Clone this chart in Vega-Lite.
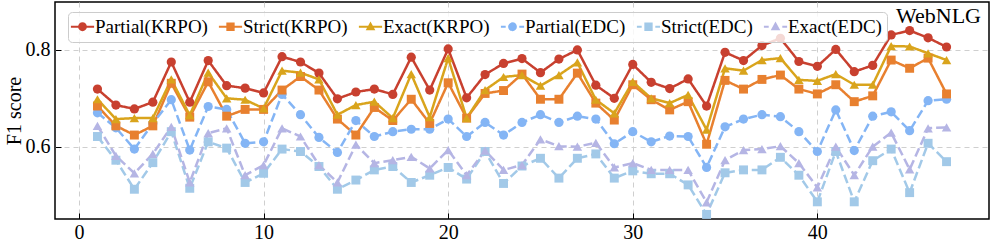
{
  "$schema": "https://vega.github.io/schema/vega-lite/v6.json",
  "width": 934,
  "height": 217,
  "autosize": {"type": "none"},
  "padding": {"left": 55, "top": 2, "right": 3, "bottom": 23},
  "background": "white",
  "config": {
    "font": "Liberation Serif",
    "view": {"stroke": "black", "strokeWidth": 1.5},
    "axis": {
      "domain": false,
      "labelFont": "Liberation Serif",
      "labelFontSize": 20,
      "labelColor": "black",
      "titleFont": "Liberation Serif",
      "titleFontSize": 20,
      "titleFontWeight": "normal",
      "titleColor": "black",
      "tickColor": "black",
      "tickSize": -6,
      "tickWidth": 1,
      "grid": true,
      "gridColor": "#cfcfcf",
      "gridDash": [5, 4],
      "gridWidth": 1
    },
    "legend": {
      "labelFont": "Liberation Serif",
      "labelFontSize": 19,
      "labelColor": "black",
      "labelLimit": 0
    }
  },
  "title": {
    "text": "WebNLG",
    "anchor": "end",
    "orient": "top",
    "frame": "group",
    "offset": -26,
    "dx": -8,
    "font": "Liberation Serif",
    "fontSize": 22,
    "fontWeight": "normal",
    "color": "black"
  },
  "data": {"values": [
    {"x":1,"s":"Partial(KRPO)","v":0.719},{"x":2,"s":"Partial(KRPO)","v":0.686},{"x":3,"s":"Partial(KRPO)","v":0.678},{"x":4,"s":"Partial(KRPO)","v":0.692},{"x":5,"s":"Partial(KRPO)","v":0.775},{"x":6,"s":"Partial(KRPO)","v":0.692},{"x":7,"s":"Partial(KRPO)","v":0.778},{"x":8,"s":"Partial(KRPO)","v":0.726},{"x":9,"s":"Partial(KRPO)","v":0.721},{"x":10,"s":"Partial(KRPO)","v":0.711},{"x":11,"s":"Partial(KRPO)","v":0.786},{"x":12,"s":"Partial(KRPO)","v":0.775},{"x":13,"s":"Partial(KRPO)","v":0.752},{"x":14,"s":"Partial(KRPO)","v":0.699},{"x":15,"s":"Partial(KRPO)","v":0.713},{"x":16,"s":"Partial(KRPO)","v":0.719},{"x":17,"s":"Partial(KRPO)","v":0.708},{"x":18,"s":"Partial(KRPO)","v":0.785},{"x":19,"s":"Partial(KRPO)","v":0.717},{"x":20,"s":"Partial(KRPO)","v":0.802},{"x":21,"s":"Partial(KRPO)","v":0.701},{"x":22,"s":"Partial(KRPO)","v":0.749},{"x":23,"s":"Partial(KRPO)","v":0.772},{"x":24,"s":"Partial(KRPO)","v":0.782},{"x":25,"s":"Partial(KRPO)","v":0.753},{"x":26,"s":"Partial(KRPO)","v":0.781},{"x":27,"s":"Partial(KRPO)","v":0.800},{"x":28,"s":"Partial(KRPO)","v":0.727},{"x":29,"s":"Partial(KRPO)","v":0.700},{"x":30,"s":"Partial(KRPO)","v":0.770},{"x":31,"s":"Partial(KRPO)","v":0.733},{"x":32,"s":"Partial(KRPO)","v":0.720},{"x":33,"s":"Partial(KRPO)","v":0.740},{"x":34,"s":"Partial(KRPO)","v":0.684},{"x":35,"s":"Partial(KRPO)","v":0.795},{"x":36,"s":"Partial(KRPO)","v":0.778},{"x":37,"s":"Partial(KRPO)","v":0.809},{"x":38,"s":"Partial(KRPO)","v":0.824},{"x":39,"s":"Partial(KRPO)","v":0.776},{"x":40,"s":"Partial(KRPO)","v":0.766},{"x":41,"s":"Partial(KRPO)","v":0.801},{"x":42,"s":"Partial(KRPO)","v":0.755},{"x":43,"s":"Partial(KRPO)","v":0.768},{"x":44,"s":"Partial(KRPO)","v":0.831},{"x":45,"s":"Partial(KRPO)","v":0.840},{"x":46,"s":"Partial(KRPO)","v":0.825},{"x":47,"s":"Partial(KRPO)","v":0.806},
    {"x":1,"s":"Strict(KRPO)","v":0.684},{"x":2,"s":"Strict(KRPO)","v":0.643},{"x":3,"s":"Strict(KRPO)","v":0.624},{"x":4,"s":"Strict(KRPO)","v":0.643},{"x":5,"s":"Strict(KRPO)","v":0.731},{"x":6,"s":"Strict(KRPO)","v":0.661},{"x":7,"s":"Strict(KRPO)","v":0.734},{"x":8,"s":"Strict(KRPO)","v":0.663},{"x":9,"s":"Strict(KRPO)","v":0.677},{"x":10,"s":"Strict(KRPO)","v":0.677},{"x":11,"s":"Strict(KRPO)","v":0.717},{"x":12,"s":"Strict(KRPO)","v":0.745},{"x":13,"s":"Strict(KRPO)","v":0.717},{"x":14,"s":"Strict(KRPO)","v":0.657},{"x":15,"s":"Strict(KRPO)","v":0.624},{"x":16,"s":"Strict(KRPO)","v":0.681},{"x":17,"s":"Strict(KRPO)","v":0.654},{"x":18,"s":"Strict(KRPO)","v":0.698},{"x":19,"s":"Strict(KRPO)","v":0.648},{"x":20,"s":"Strict(KRPO)","v":0.732},{"x":21,"s":"Strict(KRPO)","v":0.659},{"x":22,"s":"Strict(KRPO)","v":0.710},{"x":23,"s":"Strict(KRPO)","v":0.716},{"x":24,"s":"Strict(KRPO)","v":0.750},{"x":25,"s":"Strict(KRPO)","v":0.698},{"x":26,"s":"Strict(KRPO)","v":0.698},{"x":27,"s":"Strict(KRPO)","v":0.752},{"x":28,"s":"Strict(KRPO)","v":0.690},{"x":29,"s":"Strict(KRPO)","v":0.655},{"x":30,"s":"Strict(KRPO)","v":0.728},{"x":31,"s":"Strict(KRPO)","v":0.697},{"x":32,"s":"Strict(KRPO)","v":0.676},{"x":33,"s":"Strict(KRPO)","v":0.693},{"x":34,"s":"Strict(KRPO)","v":0.605},{"x":35,"s":"Strict(KRPO)","v":0.737},{"x":36,"s":"Strict(KRPO)","v":0.719},{"x":37,"s":"Strict(KRPO)","v":0.739},{"x":38,"s":"Strict(KRPO)","v":0.748},{"x":39,"s":"Strict(KRPO)","v":0.719},{"x":40,"s":"Strict(KRPO)","v":0.709},{"x":41,"s":"Strict(KRPO)","v":0.728},{"x":42,"s":"Strict(KRPO)","v":0.693},{"x":43,"s":"Strict(KRPO)","v":0.705},{"x":44,"s":"Strict(KRPO)","v":0.779},{"x":45,"s":"Strict(KRPO)","v":0.762},{"x":46,"s":"Strict(KRPO)","v":0.783},{"x":47,"s":"Strict(KRPO)","v":0.709},
    {"x":1,"s":"Exact(KRPO)","v":0.698},{"x":2,"s":"Exact(KRPO)","v":0.657},{"x":3,"s":"Exact(KRPO)","v":0.659},{"x":4,"s":"Exact(KRPO)","v":0.659},{"x":5,"s":"Exact(KRPO)","v":0.739},{"x":6,"s":"Exact(KRPO)","v":0.665},{"x":7,"s":"Exact(KRPO)","v":0.753},{"x":8,"s":"Exact(KRPO)","v":0.700},{"x":9,"s":"Exact(KRPO)","v":0.697},{"x":10,"s":"Exact(KRPO)","v":0.679},{"x":11,"s":"Exact(KRPO)","v":0.757},{"x":12,"s":"Exact(KRPO)","v":0.753},{"x":13,"s":"Exact(KRPO)","v":0.739},{"x":14,"s":"Exact(KRPO)","v":0.666},{"x":15,"s":"Exact(KRPO)","v":0.686},{"x":16,"s":"Exact(KRPO)","v":0.693},{"x":17,"s":"Exact(KRPO)","v":0.659},{"x":18,"s":"Exact(KRPO)","v":0.750},{"x":19,"s":"Exact(KRPO)","v":0.661},{"x":20,"s":"Exact(KRPO)","v":0.783},{"x":21,"s":"Exact(KRPO)","v":0.659},{"x":22,"s":"Exact(KRPO)","v":0.717},{"x":23,"s":"Exact(KRPO)","v":0.744},{"x":24,"s":"Exact(KRPO)","v":0.748},{"x":25,"s":"Exact(KRPO)","v":0.726},{"x":26,"s":"Exact(KRPO)","v":0.748},{"x":27,"s":"Exact(KRPO)","v":0.774},{"x":28,"s":"Exact(KRPO)","v":0.697},{"x":29,"s":"Exact(KRPO)","v":0.669},{"x":30,"s":"Exact(KRPO)","v":0.734},{"x":31,"s":"Exact(KRPO)","v":0.700},{"x":32,"s":"Exact(KRPO)","v":0.690},{"x":33,"s":"Exact(KRPO)","v":0.707},{"x":34,"s":"Exact(KRPO)","v":0.635},{"x":35,"s":"Exact(KRPO)","v":0.762},{"x":36,"s":"Exact(KRPO)","v":0.757},{"x":37,"s":"Exact(KRPO)","v":0.779},{"x":38,"s":"Exact(KRPO)","v":0.783},{"x":39,"s":"Exact(KRPO)","v":0.738},{"x":40,"s":"Exact(KRPO)","v":0.736},{"x":41,"s":"Exact(KRPO)","v":0.750},{"x":42,"s":"Exact(KRPO)","v":0.728},{"x":43,"s":"Exact(KRPO)","v":0.728},{"x":44,"s":"Exact(KRPO)","v":0.808},{"x":45,"s":"Exact(KRPO)","v":0.807},{"x":46,"s":"Exact(KRPO)","v":0.793},{"x":47,"s":"Exact(KRPO)","v":0.779},
    {"x":1,"s":"Partial(EDC)","v":0.670},{"x":2,"s":"Partial(EDC)","v":0.639},{"x":3,"s":"Partial(EDC)","v":0.595},{"x":4,"s":"Partial(EDC)","v":0.648},{"x":5,"s":"Partial(EDC)","v":0.697},{"x":6,"s":"Partial(EDC)","v":0.593},{"x":7,"s":"Partial(EDC)","v":0.683},{"x":8,"s":"Partial(EDC)","v":0.677},{"x":9,"s":"Partial(EDC)","v":0.607},{"x":10,"s":"Partial(EDC)","v":0.610},{"x":11,"s":"Partial(EDC)","v":0.708},{"x":12,"s":"Partial(EDC)","v":0.666},{"x":13,"s":"Partial(EDC)","v":0.619},{"x":14,"s":"Partial(EDC)","v":0.588},{"x":15,"s":"Partial(EDC)","v":0.654},{"x":16,"s":"Partial(EDC)","v":0.621},{"x":17,"s":"Partial(EDC)","v":0.631},{"x":18,"s":"Partial(EDC)","v":0.636},{"x":19,"s":"Partial(EDC)","v":0.636},{"x":20,"s":"Partial(EDC)","v":0.657},{"x":21,"s":"Partial(EDC)","v":0.621},{"x":22,"s":"Partial(EDC)","v":0.650},{"x":23,"s":"Partial(EDC)","v":0.624},{"x":24,"s":"Partial(EDC)","v":0.650},{"x":25,"s":"Partial(EDC)","v":0.666},{"x":26,"s":"Partial(EDC)","v":0.650},{"x":27,"s":"Partial(EDC)","v":0.663},{"x":28,"s":"Partial(EDC)","v":0.657},{"x":29,"s":"Partial(EDC)","v":0.606},{"x":30,"s":"Partial(EDC)","v":0.631},{"x":31,"s":"Partial(EDC)","v":0.610},{"x":32,"s":"Partial(EDC)","v":0.622},{"x":33,"s":"Partial(EDC)","v":0.621},{"x":34,"s":"Partial(EDC)","v":0.557},{"x":35,"s":"Partial(EDC)","v":0.641},{"x":36,"s":"Partial(EDC)","v":0.657},{"x":37,"s":"Partial(EDC)","v":0.666},{"x":38,"s":"Partial(EDC)","v":0.662},{"x":39,"s":"Partial(EDC)","v":0.631},{"x":40,"s":"Partial(EDC)","v":0.590},{"x":41,"s":"Partial(EDC)","v":0.676},{"x":42,"s":"Partial(EDC)","v":0.592},{"x":43,"s":"Partial(EDC)","v":0.663},{"x":44,"s":"Partial(EDC)","v":0.672},{"x":45,"s":"Partial(EDC)","v":0.633},{"x":46,"s":"Partial(EDC)","v":0.695},{"x":47,"s":"Partial(EDC)","v":0.698},
    {"x":1,"s":"Strict(EDC)","v":0.621},{"x":2,"s":"Strict(EDC)","v":0.572},{"x":3,"s":"Strict(EDC)","v":0.512},{"x":4,"s":"Strict(EDC)","v":0.567},{"x":5,"s":"Strict(EDC)","v":0.631},{"x":6,"s":"Strict(EDC)","v":0.514},{"x":7,"s":"Strict(EDC)","v":0.610},{"x":8,"s":"Strict(EDC)","v":0.597},{"x":9,"s":"Strict(EDC)","v":0.526},{"x":10,"s":"Strict(EDC)","v":0.545},{"x":11,"s":"Strict(EDC)","v":0.595},{"x":12,"s":"Strict(EDC)","v":0.590},{"x":13,"s":"Strict(EDC)","v":0.559},{"x":14,"s":"Strict(EDC)","v":0.512},{"x":15,"s":"Strict(EDC)","v":0.531},{"x":16,"s":"Strict(EDC)","v":0.552},{"x":17,"s":"Strict(EDC)","v":0.559},{"x":18,"s":"Strict(EDC)","v":0.526},{"x":19,"s":"Strict(EDC)","v":0.541},{"x":20,"s":"Strict(EDC)","v":0.557},{"x":21,"s":"Strict(EDC)","v":0.533},{"x":22,"s":"Strict(EDC)","v":0.590},{"x":23,"s":"Strict(EDC)","v":0.524},{"x":24,"s":"Strict(EDC)","v":0.560},{"x":25,"s":"Strict(EDC)","v":0.576},{"x":26,"s":"Strict(EDC)","v":0.535},{"x":27,"s":"Strict(EDC)","v":0.576},{"x":28,"s":"Strict(EDC)","v":0.585},{"x":29,"s":"Strict(EDC)","v":0.535},{"x":30,"s":"Strict(EDC)","v":0.550},{"x":31,"s":"Strict(EDC)","v":0.544},{"x":32,"s":"Strict(EDC)","v":0.544},{"x":33,"s":"Strict(EDC)","v":0.521},{"x":34,"s":"Strict(EDC)","v":0.460},{"x":35,"s":"Strict(EDC)","v":0.546},{"x":36,"s":"Strict(EDC)","v":0.552},{"x":37,"s":"Strict(EDC)","v":0.552},{"x":38,"s":"Strict(EDC)","v":0.578},{"x":39,"s":"Strict(EDC)","v":0.541},{"x":40,"s":"Strict(EDC)","v":0.486},{"x":41,"s":"Strict(EDC)","v":0.590},{"x":42,"s":"Strict(EDC)","v":0.486},{"x":43,"s":"Strict(EDC)","v":0.571},{"x":44,"s":"Strict(EDC)","v":0.595},{"x":45,"s":"Strict(EDC)","v":0.505},{"x":46,"s":"Strict(EDC)","v":0.607},{"x":47,"s":"Strict(EDC)","v":0.569},
    {"x":1,"s":"Exact(EDC)","v":0.643},{"x":2,"s":"Exact(EDC)","v":0.581},{"x":3,"s":"Exact(EDC)","v":0.545},{"x":4,"s":"Exact(EDC)","v":0.585},{"x":5,"s":"Exact(EDC)","v":0.641},{"x":6,"s":"Exact(EDC)","v":0.526},{"x":7,"s":"Exact(EDC)","v":0.628},{"x":8,"s":"Exact(EDC)","v":0.638},{"x":9,"s":"Exact(EDC)","v":0.541},{"x":10,"s":"Exact(EDC)","v":0.562},{"x":11,"s":"Exact(EDC)","v":0.638},{"x":12,"s":"Exact(EDC)","v":0.621},{"x":13,"s":"Exact(EDC)","v":0.562},{"x":14,"s":"Exact(EDC)","v":0.526},{"x":15,"s":"Exact(EDC)","v":0.604},{"x":16,"s":"Exact(EDC)","v":0.566},{"x":17,"s":"Exact(EDC)","v":0.572},{"x":18,"s":"Exact(EDC)","v":0.579},{"x":19,"s":"Exact(EDC)","v":0.555},{"x":20,"s":"Exact(EDC)","v":0.593},{"x":21,"s":"Exact(EDC)","v":0.541},{"x":22,"s":"Exact(EDC)","v":0.592},{"x":23,"s":"Exact(EDC)","v":0.552},{"x":24,"s":"Exact(EDC)","v":0.562},{"x":25,"s":"Exact(EDC)","v":0.615},{"x":26,"s":"Exact(EDC)","v":0.601},{"x":27,"s":"Exact(EDC)","v":0.600},{"x":28,"s":"Exact(EDC)","v":0.608},{"x":29,"s":"Exact(EDC)","v":0.557},{"x":30,"s":"Exact(EDC)","v":0.566},{"x":31,"s":"Exact(EDC)","v":0.552},{"x":32,"s":"Exact(EDC)","v":0.552},{"x":33,"s":"Exact(EDC)","v":0.552},{"x":34,"s":"Exact(EDC)","v":0.485},{"x":35,"s":"Exact(EDC)","v":0.572},{"x":36,"s":"Exact(EDC)","v":0.593},{"x":37,"s":"Exact(EDC)","v":0.595},{"x":38,"s":"Exact(EDC)","v":0.601},{"x":39,"s":"Exact(EDC)","v":0.566},{"x":40,"s":"Exact(EDC)","v":0.516},{"x":41,"s":"Exact(EDC)","v":0.600},{"x":42,"s":"Exact(EDC)","v":0.541},{"x":43,"s":"Exact(EDC)","v":0.600},{"x":44,"s":"Exact(EDC)","v":0.629},{"x":45,"s":"Exact(EDC)","v":0.553},{"x":46,"s":"Exact(EDC)","v":0.638},{"x":47,"s":"Exact(EDC)","v":0.640}
  ]},
  "encoding": {
    "x": {
      "field": "x", "type": "quantitative",
      "scale": {"domain": [-1.3, 49.3], "nice": false, "zero": false},
      "axis": {"title": null, "values": [0, 10, 20, 30, 40], "labelPadding": 9, "labelFlush": false, "labelFont": "Liberation Serif", "labelFontSize": 20}
    },
    "y": {
      "field": "v", "type": "quantitative",
      "scale": {"domain": [0.4505, 0.899], "nice": false, "zero": false},
      "axis": {"title": "F1 score", "values": [0.6, 0.8], "format": ".1f", "labelPadding": 11, "titlePadding": 1, "labelFlush": false, "labelFont": "Liberation Serif", "labelFontSize": 20, "titleFont": "Liberation Serif", "titleFontSize": 20}
    }
  },
  "layer": [
    {
      "mark": {"type": "line", "strokeWidth": 2.5},
      "encoding": {
        "color": {
          "field": "s", "type": "nominal",
          "scale": {
            "domain": ["Partial(KRPO)", "Strict(KRPO)", "Exact(KRPO)", "Partial(EDC)", "Strict(EDC)", "Exact(EDC)"],
            "range": ["#c8402f", "#e8802f", "#d9a41c", "#84b5f5", "#a2c9e8", "#b5b5e4"]
          },
          "legend": null
        },
        "strokeDash": {
          "field": "s", "type": "nominal",
          "scale": {
            "domain": ["Partial(KRPO)", "Strict(KRPO)", "Exact(KRPO)", "Partial(EDC)", "Strict(EDC)", "Exact(EDC)"],
            "range": [[1, 0], [1, 0], [1, 0], [9, 4], [9, 4], [9, 4]]
          },
          "legend": null
        }
      }
    },
    {
      "transform": [{"filter": "indexof(datum.s, 'Partial') === 0"}],
      "mark": {"type": "point", "shape": "circle", "filled": true, "size": 85, "opacity": 1},
      "encoding": {
        "color": {
          "field": "s", "type": "nominal",
          "scale": {
            "domain": ["Partial(KRPO)", "Strict(KRPO)", "Exact(KRPO)", "Partial(EDC)", "Strict(EDC)", "Exact(EDC)"],
            "range": ["#c8402f", "#e8802f", "#d9a41c", "#84b5f5", "#a2c9e8", "#b5b5e4"]
          },
          "legend": null
        }
      }
    },
    {
      "transform": [{"filter": "indexof(datum.s, 'Strict') === 0"}],
      "mark": {"type": "point", "shape": "square", "filled": true, "size": 80, "opacity": 1},
      "encoding": {
        "color": {
          "field": "s", "type": "nominal",
          "scale": {
            "domain": ["Partial(KRPO)", "Strict(KRPO)", "Exact(KRPO)", "Partial(EDC)", "Strict(EDC)", "Exact(EDC)"],
            "range": ["#c8402f", "#e8802f", "#d9a41c", "#84b5f5", "#a2c9e8", "#b5b5e4"]
          },
          "legend": null
        }
      }
    },
    {
      "transform": [{"filter": "indexof(datum.s, 'Exact') === 0"}],
      "mark": {"type": "point", "shape": "triangle-up", "filled": true, "size": 90, "opacity": 1},
      "encoding": {
        "color": {
          "field": "s", "type": "nominal",
          "scale": {
            "domain": ["Partial(KRPO)", "Strict(KRPO)", "Exact(KRPO)", "Partial(EDC)", "Strict(EDC)", "Exact(EDC)"],
            "range": ["#c8402f", "#e8802f", "#d9a41c", "#84b5f5", "#a2c9e8", "#b5b5e4"]
          },
          "legend": null
        }
      }
    },
    {
      "transform": [{"filter": "datum.x > 1000"}],
      "mark": {"type": "point", "filled": true, "opacity": 1, "strokeWidth": 0},
      "encoding": {
        "color": {
          "field": "s", "type": "nominal",
          "scale": {
            "domain": ["Partial(KRPO)", "Strict(KRPO)", "Exact(KRPO)", "Partial(EDC)", "Strict(EDC)", "Exact(EDC)"],
            "range": ["#c8402f", "#e8802f", "#d9a41c", "#84b5f5", "#a2c9e8", "#b5b5e4"]
          },
          "legend": {
            "title": null, "orient": "none", "legendX": 13, "legendY": 10,
            "direction": "horizontal", "columns": 6, "padding": 5,
            "fillColor": "rgba(255,255,255,0.8)", "strokeColor": "#cccccc", "cornerRadius": 4,
            "labelFont": "Liberation Serif", "labelFontSize": 19, "labelColor": "black", "labelLimit": 0,
            "labelOffset": 3, "columnPadding": 10, "symbolSize": 256, "symbolStrokeWidth": 0
          }
        },
        "shape": {
          "field": "s", "type": "nominal",
          "scale": {
            "domain": ["Partial(KRPO)", "Strict(KRPO)", "Exact(KRPO)", "Partial(EDC)", "Strict(EDC)", "Exact(EDC)"],
            "range": [
              "M-1.45,-0.13H1.45V0.13H-1.45ZM0.55,0A0.55,0.55,0,1,1,-0.55,0A0.55,0.55,0,1,1,0.55,0Z",
              "M-1.45,-0.13H1.45V0.13H-1.45ZM-0.52,-0.52H0.52V0.52H-0.52Z",
              "M-1.45,-0.13H1.45V0.13H-1.45ZM0,-0.65L0.6,0.45L-0.6,0.45Z",
              "M-1.45,-0.13H-0.85V0.13H-1.45ZM0.85,-0.13H1.45V0.13H0.85ZM0.55,0A0.55,0.55,0,1,1,-0.55,0A0.55,0.55,0,1,1,0.55,0Z",
              "M-1.45,-0.13H-0.85V0.13H-1.45ZM0.85,-0.13H1.45V0.13H0.85ZM-0.52,-0.52H0.52V0.52H-0.52Z",
              "M-1.45,-0.13H-0.85V0.13H-1.45ZM0.85,-0.13H1.45V0.13H0.85ZM0,-0.65L0.6,0.45L-0.6,0.45Z"
            ]
          },
          "legend": {
            "title": null, "orient": "none", "legendX": 13, "legendY": 10,
            "direction": "horizontal", "columns": 6, "padding": 5,
            "fillColor": "rgba(255,255,255,0.8)", "strokeColor": "#cccccc", "cornerRadius": 4,
            "labelFont": "Liberation Serif", "labelFontSize": 19, "labelColor": "black", "labelLimit": 0,
            "labelOffset": 3, "columnPadding": 10, "symbolSize": 256, "symbolStrokeWidth": 0
          }
        }
      }
    }
  ],
  "resolve": {"scale": {"color": "independent", "shape": "independent"}}
}
